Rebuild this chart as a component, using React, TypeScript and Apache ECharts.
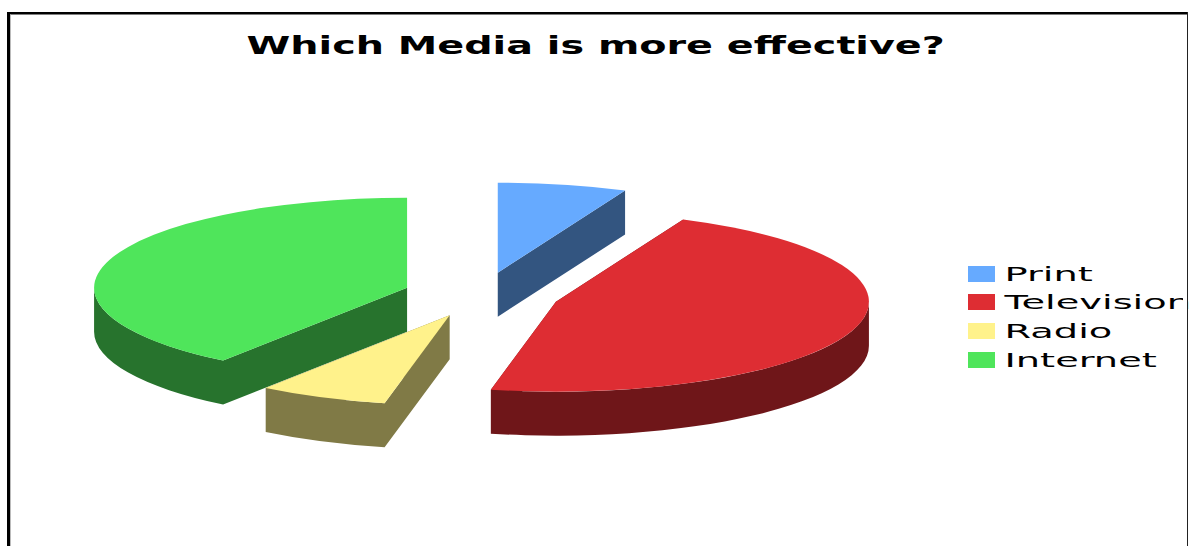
import React, { useEffect, useRef } from "react";
import * as echarts from "echarts";

const titleText = "Which Media is more effective?";
const categories = ["Print", "Television", "Radio", "Internet"];
const shares = [1, 7, 1, 6];
const topColors = ["#66AAFF", "#DE2D33", "#FFF28B", "#4FE55B"];
const wallColors = ["#335580", "#6F1619", "#807A46", "#27732D"];

const WIDTH = 1189;
const HEIGHT = 546;
const CX = 481.5;
const CY = 294.7;
const RX = 313;
const RY = 90;
const DEPTH = 44;
const EXPLODE = 0.25;
const LEGEND_ROWS = [274, 302, 331, 360];

const rad = (deg: number) => (deg * Math.PI) / 180;
const total = shares.reduce((a, b) => a + b, 0);

// Start and end of a slice, in degrees clockwise from the top of the ellipse.
function sliceAngles(index: number): [number, number] {
  const before = shares.slice(0, index).reduce((a, b) => a + b, 0);
  return [(before / total) * 360, ((before + shares[index]) / total) * 360];
}

function renderSlice(params: any, api: any) {
  const index = params.dataIndex;
  const [start, end] = sliceAngles(index);
  const mid = rad((start + end) / 2);
  const ax = CX + EXPLODE * RX * Math.sin(mid);
  const ay = CY - EXPLODE * RY * Math.cos(mid);
  const rim = (deg: number): [number, number] => [
    ax + RX * Math.sin(rad(deg)),
    ay - RY * Math.cos(rad(deg)),
  ];
  const [sx, sy] = rim(start);
  const [ex, ey] = rim(end);
  const arc = (to: [number, number], from: number, till: number, sweep: number) =>
    `A ${RX} ${RY} 0 ${till - from > 180 ? 1 : 0} ${sweep} ${to[0]} ${to[1]}`;

  const radial = (x: number, y: number) =>
    `M ${ax} ${ay} L ${x} ${y} L ${x} ${y + DEPTH} L ${ax} ${ay + DEPTH} Z`;
  let wallPath = radial(sx, sy) + " " + radial(ex, ey);

  // Only the part of the rim that faces the viewer gets an outer wall.
  const f0 = Math.max(start, 90);
  const f1 = Math.min(end, 270);
  if (f1 > f0) {
    const a = rim(f0);
    const b = rim(f1);
    wallPath +=
      ` M ${a[0]} ${a[1]} ${arc(b, f0, f1, 1)} L ${b[0]} ${b[1] + DEPTH} ` +
      `${arc([a[0], a[1] + DEPTH], f0, f1, 0)} Z`;
  }
  const topPath = `M ${ax} ${ay} L ${sx} ${sy} ${arc([ex, ey], start, end, 1)} Z`;

  // Slices whose apex sits lower on the page are nearer and paint later.
  const z = Math.round(ay);
  return {
    type: "group",
    children: [
      { type: "path", z2: z, shape: { pathData: wallPath }, style: { fill: wallColors[index] } },
      { type: "path", z2: z + 1, shape: { pathData: topPath }, style: { fill: topColors[index] } },
    ],
  };
}

export default function App() {
  const ref = useRef<HTMLDivElement>(null);

  useEffect(() => {
    document.body.style.margin = "0";
    const chart = echarts.init(ref.current!, null, { renderer: "svg" });
    const legendGraphics = categories.flatMap((name, i) => [
      {
        type: "rect",
        z: 10,
        shape: { x: 968, y: LEGEND_ROWS[i] - 8, width: 27, height: 16 },
        style: { fill: topColors[i] },
      },
      {
        type: "text",
        z: 10,
        x: 1004.5,
        y: LEGEND_ROWS[i] + 0.5,
        scaleX: 2.02,
        style: {
          text: name,
          font: '19px "DejaVu Sans"',
          fill: "#000",
          textVerticalAlign: "middle",
        },
      },
    ]);
    chart.setOption({
      animation: false,
      backgroundColor: "#fff",
      series: [
        {
          type: "custom",
          coordinateSystem: "none",
          data: shares.map((value, i) => ({ name: categories[i], value })),
          renderItem: renderSlice,
          silent: true,
        },
      ],
      graphic: [
        {
          type: "text",
          z: 10,
          x: 246.5,
          y: 46,
          scaleX: 1.655,
          style: {
            text: titleText,
            font: 'bold 24px "DejaVu Sans"',
            fill: "#000",
            textVerticalAlign: "middle",
          },
        },
        ...legendGraphics,
        // The legend column stops short of the frame and cuts off the longest name.
        { type: "rect", z: 11, shape: { x: 1183, y: 250, width: 4, height: 130 }, style: { fill: "#fff" } },
        // Chart frame: open at the bottom, heavier on the left and top.
        { type: "rect", z: 12, shape: { x: 7, y: 12, width: 1181, height: 2.5 }, style: { fill: "#000" } },
        { type: "rect", z: 12, shape: { x: 7, y: 12, width: 3, height: 534 }, style: { fill: "#000" } },
        { type: "rect", z: 12, shape: { x: 10, y: 14.5, width: 1, height: 532 }, style: { fill: "#bbb" } },
        { type: "rect", z: 12, shape: { x: 1187, y: 12, width: 1, height: 534 }, style: { fill: "#222" } },
      ],
    });
    return () => chart.dispose();
  }, []);

  return (
    <div
      ref={ref}
      style={{ position: "absolute", left: 0, top: 0, width: WIDTH, height: HEIGHT }}
    />
  );
}
